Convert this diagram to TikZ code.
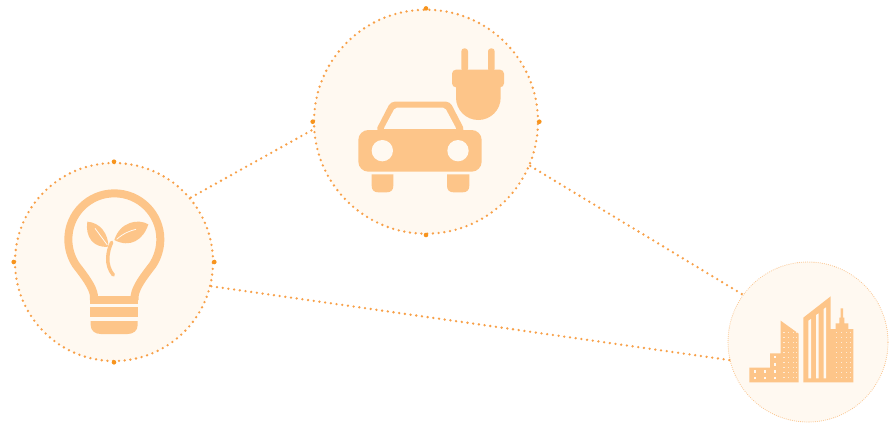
\documentclass[tikz,border=0pt]{standalone}
\definecolor{discbg}{HTML}{FFF9F1}
\definecolor{iconc}{HTML}{FDC589}
\definecolor{dotc}{HTML}{F8A048}
\definecolor{markc}{HTML}{F7941D}
\definecolor{cityrim}{HTML}{FBC48C}
\tikzset{
  hub/.style={circle,inner sep=0pt,fill=discbg,draw=dotc,line width=2.6pt,line cap=round,dash pattern=on 0pt off 5.75pt},
  cityhub/.style={circle,inner sep=0pt,fill=discbg,draw=cityrim,line width=1.1pt,line cap=round,dash pattern=on 0pt off 2.1pt},
  link/.style={draw=dotc,line width=2.6pt,line cap=round,dash pattern=on 0pt off 5.75pt},
  hubmark/.style={fill=markc},
  icon/.style={fill=iconc,draw=none},
  cut/.style={fill=discbg,draw=none}
}
\begin{document}
\begin{tikzpicture}[x=1pt,y=-1pt]
\useasboundingbox (0,0) rectangle (895,424);
\fill[white] (0,0) rectangle (895,424);
\node[hub,minimum size=224pt] (car) at (426,121.7) {};
\node[hub,minimum size=198pt] (bulb) at (114,262) {};
\node[cityhub,minimum size=160pt] (city) at (808,342) {};
\path[link] (bulb.40) -- (car.184);
\path[link] (car.-23.5) -- (city.144);
\path[link] (bulb.-14) -- (city.193);
\foreach \n in {car,bulb}{
  \foreach \a in {north,south,east,west}{
    \fill[hubmark] (\n.\a) circle [radius=2.3];
  }
}
% car and plug
\begin{scope}[shift={(300,0)},x=0.33333pt,y=-0.33333pt]
  \fill[icon,rounded corners=10pt] (175,390) rectangle (545,515);
  \fill[icon,rounded corners=4pt] (227,392) -- (272,305) -- (450,305) -- (495,392) -- cycle;
  \fill[cut,rounded corners=2pt] (250,388) -- (285,323) -- (435,323) -- (470,388) -- cycle;
  \fill[icon] (240,388) rectangle (480,395);
  \fill[cut] (247,452) circle [radius=32];
  \fill[cut] (474,452) circle [radius=32];
  \fill[icon] (215,523) -- (215,557) .. controls (215,570) and (222,577) .. (235,577) -- (260,577) .. controls (273,577) and (280,570) .. (280,557) -- (280,523) -- cycle;
  \fill[icon] (441,523) -- (441,557) .. controls (441,570) and (448,577) .. (461,577) -- (488,577) .. controls (501,577) and (508,570) .. (508,557) -- (508,523) -- cycle;
  \fill[icon,rounded corners=3pt] (484,215) -- (484,145) -- (504,145) -- (504,215) -- cycle;
  \fill[icon,rounded corners=3pt] (564,215) -- (564,145) -- (584,145) -- (584,215) -- cycle;
  \fill[icon,rounded corners=4pt] (456,209) rectangle (612,262);
  \fill[icon] (468,255) -- (468,293) arc [start angle=180,end angle=0,radius=67] -- (602,255) -- cycle;
\end{scope}
% bulb
\begin{scope}[shift={(0,150)},x=0.33333pt,y=-0.33333pt]
  \draw[iconc,line width=8pt] (282,450) -- (282,437) .. controls (278,410) and (255,380) .. (228,345)
     .. controls (213,322) and (205,295) .. (205,268)
     arc [start angle=180,end angle=360,radius=138]
     .. controls (481,295) and (473,322) .. (458,345)
     .. controls (431,380) and (408,410) .. (404,437) -- (404,450);
  \fill[icon] (270,437) rectangle (415,462);
  \fill[icon] (270,472) rectangle (415,500);
  \fill[icon] (272,513) -- (272,525) .. controls (272,542) and (285,552) .. (302,552) -- (383,552) .. controls (400,552) and (413,542) .. (413,525) -- (413,513) -- cycle;
  \fill[icon] (262,215) .. controls (300,218) and (325,250) .. (325,290) .. controls (280,295) and (255,260) .. (262,215) -- cycle;
  \fill[icon] (445,223) .. controls (415,205) and (360,215) .. (343,270) .. controls (390,295) and (430,270) .. (445,223) -- cycle;
  \draw[discbg,line width=0.8pt] (285,235) -- (322,285);
  \draw[discbg,line width=0.8pt] (350,268) .. controls (370,250) and (390,242) .. (408,238);
  \draw[iconc,line width=3.5pt,line cap=round] (340,375) .. controls (315,345) and (322,305) .. (335,277);
\end{scope}
% city
\begin{scope}[shift={(720,255)},x=0.33333pt,y=-0.33333pt]
  \fill[icon] (88,338) -- (150,338) -- (150,295) -- (182,295) -- (182,197) -- (236,236) -- (236,382) -- (88,382) -- cycle;
  \fill[icon] (250,188) -- (332,124) -- (332,222) -- (347,222) -- (347,205) -- (358,205) -- (358,188) -- (362,188) -- (362,160) -- (369,160) -- (369,188) -- (373,188) -- (373,205) -- (385,205) -- (385,222) -- (400,222) -- (400,382) -- (250,382) -- cycle;
  \fill[cut] (265,197) -- (273,192) -- (273,370) -- (265,370) -- cycle;
  \fill[cut] (288,180) -- (296,175) -- (296,370) -- (288,370) -- cycle;
  \fill[cut] (311,162) -- (318,157) -- (318,370) -- (311,370) -- cycle;
  \foreach \px in {105,135,165}{
    \foreach \py in {350,369}{ \fill[cut] (\px-4,\py-4) rectangle (\px+4,\py+4); }
  }
  \foreach \py in {306,328}{ \fill[cut] (161,\py-4) rectangle (169,\py+4); }
  \foreach \px in {192,206,220,230}{
    \foreach \py in {232,247,...,377}{ \fill[cut,opacity=.75] (\px-2,\py-1.5) rectangle (\px+2,\py+1.5); }
  }
  \foreach \px in {350,365,380,392}{
    \foreach \py in {232,247,...,377}{ \fill[cut,opacity=.75] (\px-2,\py-1.5) rectangle (\px+2,\py+1.5); }
  }
\end{scope}
\end{tikzpicture}
\end{document}
